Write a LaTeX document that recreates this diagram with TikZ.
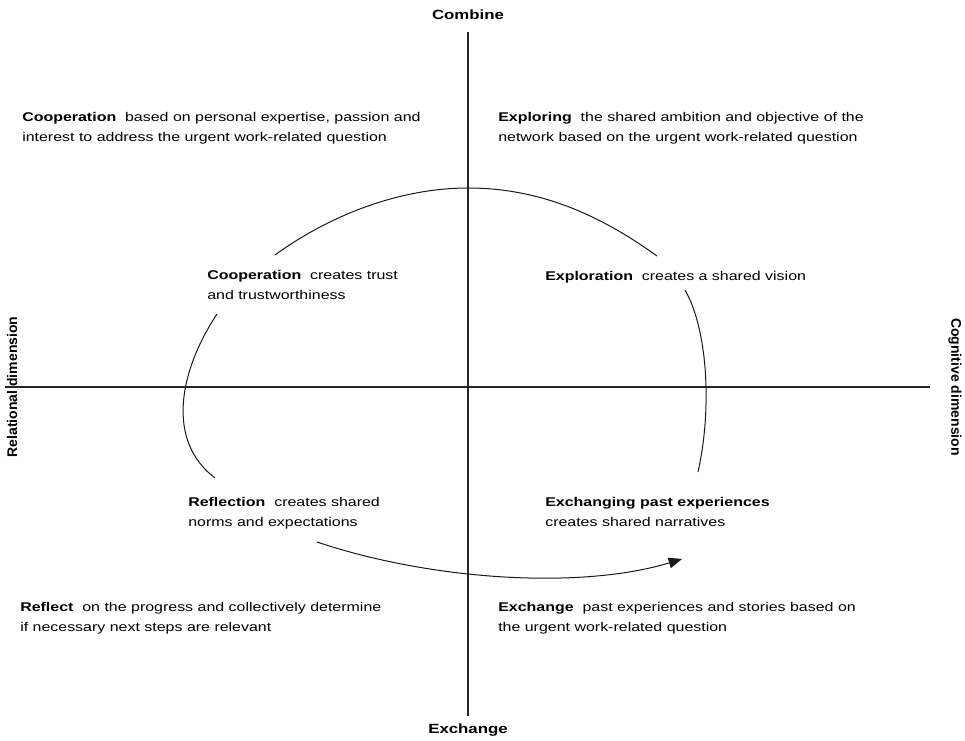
\documentclass[tikz,border=0pt]{standalone}
\usepackage{fontspec}
\setmainfont[FakeStretch=1.26]{Liberation Sans}
\newfontfamily\plainsans{Liberation Sans}
\usetikzlibrary{arrows.meta}
\tikzset{
  txt/.style={anchor=base west, align=left, inner sep=0pt, font=\fontsize{9.5pt}{14.5pt}\selectfont},
  axislabel/.style={inner sep=0pt, font=\fontsize{10pt}{12pt}\selectfont\bfseries},
  sidelabel/.style={inner sep=0pt, font=\plainsans\fontsize{10.5pt}{12pt}\selectfont\bfseries},
  axisline/.style={line width=1.5pt, black!85},
  flow/.style={line width=0.75pt, black!90},
}
\begin{document}
\begin{tikzpicture}[x=0.75pt, y=-0.75pt]
\useasboundingbox (0,0) rectangle (965,740);
% axes
\coordinate (top) at (468,32);
\coordinate (bot) at (468,716);
\coordinate (lft) at (5,387);
\coordinate (rgt) at (930,387);
\draw[axisline] (top) -- (bot);
\draw[axisline] (lft) -- (rgt);
% axis labels
\node[axislabel, anchor=base] (combine) at (468,19) {Combine};
\node[axislabel, anchor=base] (exchange) at (468,733) {Exchange};
\node[sidelabel, rotate=90] (rel) at (12,387) {Relational dimension};
\node[sidelabel, rotate=-90] (cog) at (955,387) {Cognitive dimension};
% outer texts (anchor = baseline of last line)
\node[txt] (tl) at (22,141) {\textbf{Cooperation}\ \ based on personal expertise, passion and\\interest to address the urgent work-related question};
\node[txt] (tr) at (498,141) {\textbf{Exploring}\ \ the shared ambition and objective of the\\network based on the urgent work-related question};
\node[txt] (bl) at (20,631) {\textbf{Reflect}\ \ on the progress and collectively determine\\if necessary next steps are relevant};
\node[txt] (br) at (498,631) {\textbf{Exchange}\ \ past experiences and stories based on\\the urgent work-related question};
% inner texts
\node[txt] (coop) at (207,299) {\textbf{Cooperation}\ \ creates trust\\and trustworthiness};
\node[txt] (expl) at (545,280) {\textbf{Exploration}\ \ creates a shared vision};
\node[txt] (refl) at (188,526) {\textbf{Reflection}\ \ creates shared\\norms and expectations};
\node[txt] (exch) at (545,526) {\textbf{Exchanging past experiences}\\creates shared narratives};
% cycle curves
\coordinate (a1) at (275,255);
\coordinate (a2) at (468,188);
\coordinate (a3) at (657,256);
\draw[flow] (a1) .. controls (330,215) and (400,188) .. (a2) .. controls (540,188) and (600,215) .. (a3);
\coordinate (b1) at (217,314);
\coordinate (b2) at (215,478);
\draw[flow] (b1) .. controls (180,370) and (165,440) .. (b2);
\coordinate (c1) at (685,290);
\coordinate (c2) at (698,472);
\draw[flow] (c1) .. controls (708,330) and (712,410) .. (c2);
\coordinate (d1) at (317,542);
\coordinate (d2) at (682,559);
\draw[flow, -{Triangle[length=10pt, width=8pt]}] (d1) .. controls (430,580) and (580,590) .. (d2);
\end{tikzpicture}
\end{document}
